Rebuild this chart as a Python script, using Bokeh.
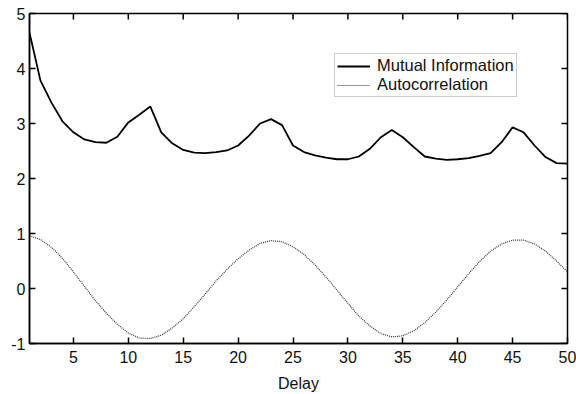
import math
from bokeh.plotting import figure
from bokeh.models import FixedTicker, Range1d, Legend, LegendItem
from bokeh.embed import file_html
from bokeh.resources import INLINE

delay = list(range(1, 51))
mutual_info = [4.65, 3.78, 3.38, 3.04, 2.84, 2.71, 2.66, 2.65, 2.76, 3.02,
               3.16, 3.31, 2.84, 2.64, 2.52, 2.47, 2.46, 2.48, 2.51, 2.60,
               2.78, 3.00, 3.08, 2.97, 2.60, 2.48, 2.42, 2.38, 2.35, 2.35,
               2.40, 2.54, 2.75, 2.88, 2.75, 2.57, 2.40, 2.36, 2.34, 2.35,
               2.37, 2.41, 2.46, 2.66, 2.93, 2.84, 2.60, 2.39, 2.28, 2.27]
autocorr = [0.96, 0.89, 0.75, 0.55, 0.30, 0.04, -0.22, -0.45, -0.65, -0.81,
            -0.90, -0.91, -0.85, -0.72, -0.55, -0.33, -0.10, 0.14, 0.35, 0.54,
            0.70, 0.82, 0.87, 0.85, 0.76, 0.62, 0.43, 0.21, -0.03, -0.27,
            -0.50, -0.68, -0.82, -0.88, -0.86, -0.77, -0.62, -0.43, -0.21, 0.03,
            0.27, 0.49, 0.68, 0.81, 0.88, 0.88, 0.81, 0.68, 0.50, 0.30]
x_ticks = [5, 10, 15, 20, 25, 30, 35, 40, 45, 50]
y_ticks = [-1, 0, 1, 2, 3, 4, 5]
series_names = ["Mutual Information", "Autocorrelation"]
x_label = "Delay"

FONT = "Liberation Sans"
FS = "16px"
XMIN, XMAX, YMIN, YMAX = 1, 50, -1, 5

p = figure(width=576, height=394, output_backend="svg", toolbar_location=None,
           x_range=Range1d(XMIN, XMAX), y_range=Range1d(YMIN, YMAX),
           min_border_left=29, min_border_right=9, min_border_top=13, min_border_bottom=51,
           x_axis_label=x_label)
p.grid.visible = False
p.outline_line_color = "black"
p.outline_line_width = 1.5
p.background_fill_color = "white"
p.border_fill_color = "white"

r1 = p.line(delay, mutual_info, line_color="black", line_width=1.8)
r2 = p.line(delay, autocorr, line_color="#333333", line_width=1.2, line_dash="1 1")

# tick marks on the top and right edges of the box (clipped to the frame)
p.scatter(x_ticks, [YMAX] * len(x_ticks), marker="dash", size=12, angle=math.pi / 2,
          line_color="black", line_width=1.5)
p.scatter([XMAX] * len(y_ticks), y_ticks, marker="dash", size=12,
          line_color="black", line_width=1.5)

for ax in (p.xaxis[0], p.yaxis[0]):
    ax.axis_line_color = "black"
    ax.axis_line_width = 1.5
    ax.major_tick_in = 6
    ax.major_tick_out = 0
    ax.major_tick_line_width = 1.5
    ax.minor_tick_line_color = None
    ax.major_label_text_font = FONT
    ax.major_label_text_font_size = FS
    ax.major_label_text_color = "#111111"

p.xaxis[0].ticker = FixedTicker(ticks=x_ticks)
p.xaxis[0].major_label_standoff = 7
p.xaxis[0].axis_label_text_font = FONT
p.xaxis[0].axis_label_text_font_size = FS
p.xaxis[0].axis_label_text_font_style = "normal"
p.xaxis[0].axis_label_text_color = "#111111"
p.xaxis[0].axis_label_standoff = 9
p.yaxis[0].ticker = FixedTicker(ticks=y_ticks)
p.yaxis[0].major_label_standoff = 4
p.yaxis[0].major_label_overrides = {t: str(t) for t in y_ticks}

legend = Legend(items=[LegendItem(label=series_names[0], renderers=[r1]),
                       LegendItem(label=series_names[1], renderers=[r2])],
                location=(305, 246))
legend.border_line_color = "#999999"
legend.border_line_width = 1
legend.label_text_font = FONT
legend.label_text_font_size = "16.5px"
legend.label_text_color = "#111111"
legend.glyph_width = 33
legend.glyph_height = 18
legend.label_height = 18
legend.label_standoff = 7
legend.spacing = 0
legend.padding = 2
legend.margin = 0
legend.background_fill_alpha = 1
p.add_layout(legend, "center")

open("out.html", "w").write(file_html(p, INLINE))
